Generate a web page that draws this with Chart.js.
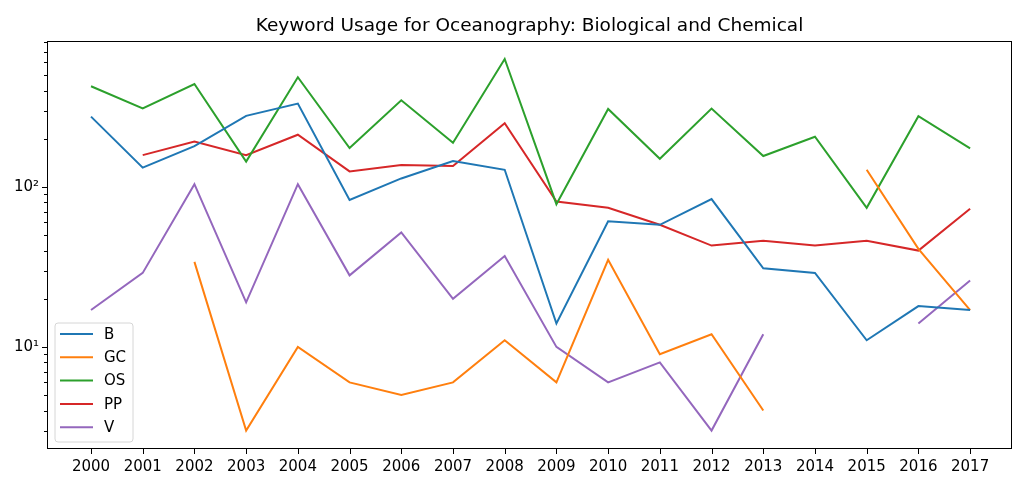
<!DOCTYPE html>
<html>
<head>
<meta charset="utf-8">
<script src="https://cdn.jsdelivr.net/npm/chart.js"></script>
<style>
  html, body { margin: 0; padding: 0; background: #fff; }
  #wrap { width: 1013px; height: 487px; }
</style>
</head>
<body>
<div id="wrap"><canvas id="chart"></canvas></div>
<script>
// data
const years = [2000, 2001, 2002, 2003, 2004, 2005, 2006, 2007, 2008, 2009, 2010, 2011, 2012, 2013, 2014, 2015, 2016, 2017];
const seriesNames = ['B', 'GC', 'OS', 'PP', 'V'];
const seriesColors = ['#1f77b4', '#ff7f0e', '#2ca02c', '#d62728', '#9467bd'];

const B  = [275, 132, 180, 278, 332, 83, 113, 145, 128, 14, 61, 58, 84, 31, 29, 11, 18, 17];
const GC = [null, null, 34, 3, 10, 6, 5, 6, 11, 6, 35, 9, 12, 4, null, 128, 41, 17];
const OS = [426, 310, 440, 144, 485, 175, 348, 189, 631, 78, 307, 150, 309, 156, 206, 74, 277, 174];
const PP = [null, 158, 192, 158, 212, 125, 137, 135, 250, 81, 74, 58, 43, 46, 43, 46, 40, 73];
const V  = [17, 29, 104, 19, 104, 28, 52, 20, 37, 10, 6, 8, 3, 12, null, null, 14, 26];

const yMajorTicks = [10, 100];
const yMajorLabels = ['10\u00b9', '10\u00b2'];
const yMinorTicks = [3, 4, 5, 6, 7, 8, 9, 20, 30, 40, 50, 60, 70, 80, 90, 200, 300, 400, 500, 600, 700, 800];

const allSeries = [B, GC, OS, PP, V];
const FONT = 'DejaVu Sans';

const datasets = allSeries.map((vals, i) => ({
    label: seriesNames[i],
    data: years.map((yr, j) => ({ x: yr, y: vals[j] })),
    borderColor: seriesColors[i],
    backgroundColor: seriesColors[i],
    borderWidth: 2,
    pointRadius: 0,
    tension: 0,
    spanGaps: false
}));

// frame, tick marks and the in-plot legend
const framePlugin = {
    id: 'frame',
    afterDatasetsDraw(chart) {
        const ctx = chart.ctx;
        const a = chart.chartArea;
        const xs = chart.scales.x;
        const ys = chart.scales.y;
        ctx.save();
        ctx.strokeStyle = '#000';
        ctx.lineWidth = 1;
        ctx.beginPath();
        years.forEach(yr => {
            const px = Math.round(xs.getPixelForValue(yr)) + 0.5;
            ctx.moveTo(px, a.bottom);
            ctx.lineTo(px, a.bottom + 5);
        });
        yMajorTicks.forEach(v => {
            const py = Math.round(ys.getPixelForValue(v)) + 0.5;
            ctx.moveTo(a.left, py);
            ctx.lineTo(a.left - 5, py);
        });
        yMinorTicks.forEach(v => {
            const py = Math.round(ys.getPixelForValue(v)) + 0.5;
            if (py < a.top || py > a.bottom) return;
            ctx.moveTo(a.left, py);
            ctx.lineTo(a.left - 3, py);
        });
        ctx.stroke();

        // legend box
        const lx = 55, ly = 323, lw = 78, lh = 119, r = 3;
        ctx.beginPath();
        ctx.moveTo(lx + r, ly);
        ctx.arcTo(lx + lw, ly, lx + lw, ly + lh, r);
        ctx.arcTo(lx + lw, ly + lh, lx, ly + lh, r);
        ctx.arcTo(lx, ly + lh, lx, ly, r);
        ctx.arcTo(lx, ly, lx + lw, ly, r);
        ctx.closePath();
        ctx.fillStyle = 'rgba(255,255,255,0.8)';
        ctx.fill();
        ctx.strokeStyle = '#d6d6d6';
        ctx.stroke();

        ctx.font = '15px "' + FONT + '"';
        ctx.textBaseline = 'middle';
        ctx.textAlign = 'left';
        chart.data.datasets.forEach((ds, i) => {
            const cy = 334 + i * 23.3;
            ctx.strokeStyle = ds.borderColor;
            ctx.lineWidth = 2;
            ctx.beginPath();
            ctx.moveTo(60, cy);
            ctx.lineTo(93, cy);
            ctx.stroke();
            ctx.fillStyle = '#000';
            ctx.fillText(ds.label, 104, cy + 1);
        });

        // axes frame
        ctx.strokeStyle = '#000';
        ctx.lineWidth = 1;
        ctx.strokeRect(a.left + 0.5, a.top + 0.5, a.right - a.left - 1, a.bottom - a.top - 1);
        ctx.restore();
    }
};

new Chart(document.getElementById('chart'), {
    type: 'line',
    data: { datasets: datasets },
    options: {
        responsive: true,
        maintainAspectRatio: false,
        animation: false,
        layout: { padding: { left: 0, right: 1, top: 0, bottom: 0 } },
        plugins: {
            legend: { display: false },
            tooltip: { enabled: false },
            title: {
                display: true,
                fullSize: false,
                text: 'Keyword Usage for Oceanography: Biological and Chemical',
                color: '#000',
                font: { family: FONT, size: 18.5, weight: 'normal' },
                padding: { top: 15, bottom: 3.8 }
            }
        },
        scales: {
            x: {
                type: 'linear',
                min: 1999.149,
                max: 2017.81,
                grid: { display: false, drawTicks: false },
                border: { display: false },
                afterBuildTicks: (scale) => { scale.ticks = years.map(v => ({ value: v })); },
                afterFit: (scale) => { scale.height = 38; },
                ticks: {
                    autoSkip: false,
                    maxRotation: 0,
                    padding: 9,
                    color: '#000',
                    font: { family: FONT, size: 15 },
                    callback: (v) => String(v)
                }
            },
            y: {
                type: 'logarithmic',
                min: 2.3,
                max: 817,
                grid: { display: false, drawTicks: false },
                border: { display: false },
                afterBuildTicks: (scale) => {
                    scale.ticks = yMajorTicks.map(v => ({ value: v, major: true }));
                },
                afterFit: (scale) => { scale.width = 47; },
                ticks: {
                    padding: 8,
                    color: '#000',
                    font: { family: FONT, size: 15 },
                    callback: (v) => {
                        const k = yMajorTicks.indexOf(v);
                        return k >= 0 ? yMajorLabels[k] : '';
                    }
                }
            }
        }
    },
    plugins: [framePlugin]
});
</script>
</body>
</html>
